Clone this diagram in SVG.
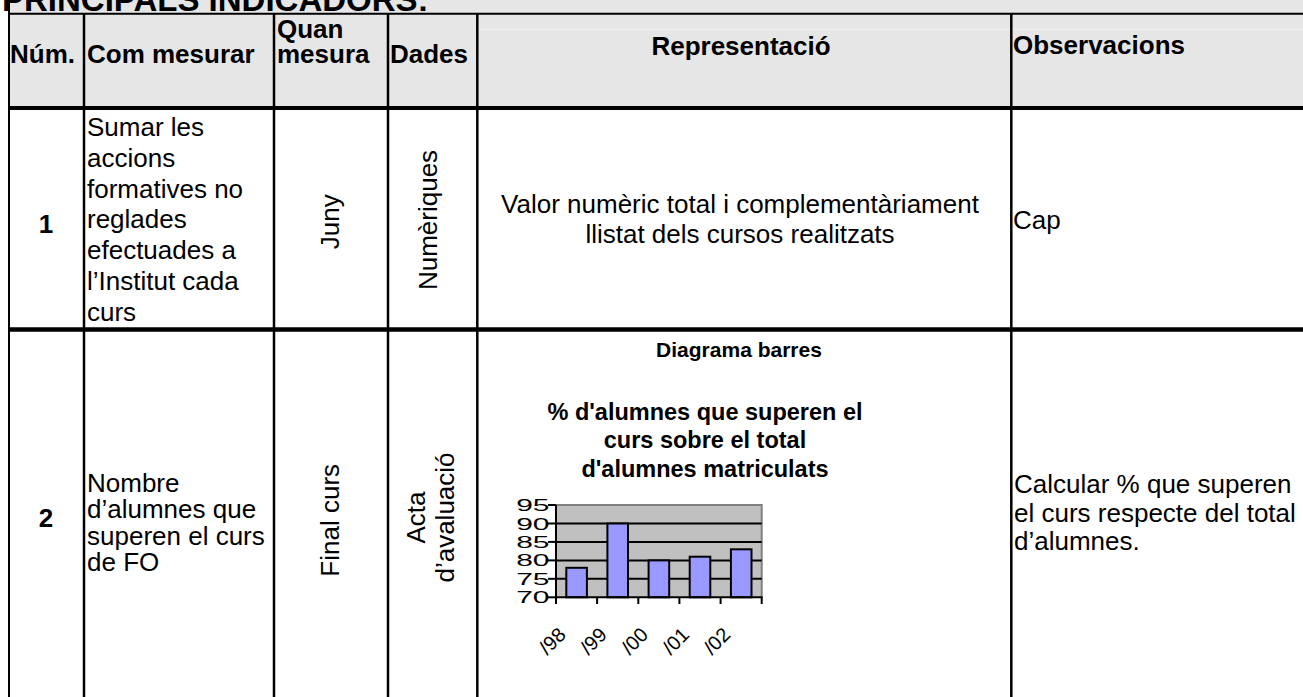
<svg xmlns="http://www.w3.org/2000/svg" width="1303" height="697" viewBox="0 0 1303 697">
<defs>
<style>
text{font-family:"Liberation Sans",Arial,sans-serif;fill:#000}
.h{font-size:26px;font-weight:bold}
.b{font-size:26px}
.ttl{font-size:33px;font-weight:bold}
.ct{font-size:23.5px;font-weight:bold;text-anchor:middle}
.yl{font-size:30px;text-anchor:end}
.xl{font-size:20px;text-anchor:end}
.g{stroke:#000;fill:none}
.bar{fill:#9999FF;stroke:#000;stroke-width:2}
.mid{text-anchor:middle}
</style>
</defs>
<rect x="0" y="0" width="1303" height="697" fill="#fff"/>
<rect x="9" y="0" width="1294" height="108" fill="#E6E6E6"/>
<line x1="478" y1="29.3" x2="1303" y2="29.3" stroke="#F3F3F3" stroke-width="1"/>

<g id="title"><text class="ttl" x="2" y="10.5">PRINCIPALS INDICADORS:</text></g>

<g id="header">
<text class="h" x="10" y="63.3">Núm.</text>
<text class="h" x="87" y="63.3">Com mesurar</text>
<text class="h" x="277" y="37.5">Quan</text>
<text class="h" x="277" y="63.3">mesura</text>
<text class="h" x="390" y="63.3">Dades</text>
<text class="h mid" x="741" y="55">Representació</text>
<text class="h" x="1013" y="54">Observacions</text>
</g>

<g id="row1">
<text class="h mid" x="46" y="232.5">1</text>
<text class="b" x="87"><tspan x="87" y="136">Sumar les</tspan><tspan x="87" y="166.8">accions</tspan><tspan x="87" y="197.6">formatives no</tspan><tspan x="87" y="228.4">reglades</tspan><tspan x="87" y="259.2">efectuades a</tspan><tspan x="87" y="290">l’Institut cada</tspan><tspan x="87" y="320.8">curs</tspan></text>
<text class="b mid" transform="translate(338.5,221.7) rotate(-90)">Juny</text>
<text class="b mid" transform="translate(437,220) rotate(-90)">Numèriques</text>
<text class="b mid" x="740" y="213.3">Valor numèric total i complementàriament</text>
<text class="b mid" x="740" y="243.3">llistat dels cursos realitzats</text>
<text class="b" x="1013" y="229.3">Cap</text>
</g>

<g id="row2">
<text class="h mid" x="46" y="526.7">2</text>
<text class="b"><tspan x="87" y="492">Nombre</tspan><tspan x="87" y="518.3">d’alumnes que</tspan><tspan x="87" y="544.6">superen el curs</tspan><tspan x="87" y="570.9">de FO</tspan></text>
<text class="b mid" transform="translate(338.5,520.3) rotate(-90)">Final curs</text>
<text class="b mid" transform="translate(425.3,517.5) rotate(-90)">Acta</text>
<text class="b mid" transform="translate(453.8,517.5) rotate(-90)">d’avaluació</text>
<text class="b"><tspan x="1014" y="493.4">Calcular % que superen</tspan><tspan x="1014" y="521.7">el curs respecte del total</tspan><tspan x="1014" y="550">d’alumnes.</tspan></text>
</g>

<g id="chart">
<text x="739" y="357" style="font-size:21px;font-weight:bold;text-anchor:middle">Diagrama barres</text>
<text class="ct" x="705" y="420">% d'alumnes que superen el</text>
<text class="ct" x="705" y="448.3">curs sobre el total</text>
<text class="ct" x="705" y="476.7">d'alumnes matriculats</text>
<rect x="556" y="505" width="205.7" height="92.3" fill="#C0C0C0"/>
<polyline points="556,505 761.7,505 761.7,597.3" fill="none" stroke="#808080" stroke-width="2"/>
<g class="g" stroke-width="2">
<line x1="556" y1="523.5" x2="761.7" y2="523.5"/>
<line x1="556" y1="541.9" x2="761.7" y2="541.9"/>
<line x1="556" y1="560.4" x2="761.7" y2="560.4"/>
<line x1="556" y1="578.8" x2="761.7" y2="578.8"/>
</g>
<rect class="bar" x="566.3" y="567.8" width="20.6" height="29.5"/>
<rect class="bar" x="607.4" y="523.5" width="20.6" height="73.8"/>
<rect class="bar" x="648.6" y="560.4" width="20.6" height="36.9"/>
<rect class="bar" x="689.7" y="556.7" width="20.6" height="40.6"/>
<rect class="bar" x="730.9" y="549.3" width="20.6" height="48"/>
<g class="g" stroke-width="2">
<line x1="556" y1="505" x2="556" y2="598.3"/>
<line x1="555" y1="597.3" x2="762.7" y2="597.3"/>
<line x1="548" y1="505" x2="556" y2="505"/>
<line x1="548" y1="523.5" x2="556" y2="523.5"/>
<line x1="548" y1="541.9" x2="556" y2="541.9"/>
<line x1="548" y1="560.4" x2="556" y2="560.4"/>
<line x1="548" y1="578.8" x2="556" y2="578.8"/>
<line x1="548" y1="597.3" x2="556" y2="597.3"/>
<line x1="556" y1="597.3" x2="556" y2="604"/>
<line x1="597.1" y1="597.3" x2="597.1" y2="604"/>
<line x1="638.3" y1="597.3" x2="638.3" y2="604"/>
<line x1="679.4" y1="597.3" x2="679.4" y2="604"/>
<line x1="720.6" y1="597.3" x2="720.6" y2="604"/>
<line x1="761.7" y1="597.3" x2="761.7" y2="604"/>
</g>
<text class="yl" transform="translate(549.5,511) scale(1,0.56)">95</text>
<text class="yl" transform="translate(549.5,529.5) scale(1,0.56)">90</text>
<text class="yl" transform="translate(549.5,547.9) scale(1,0.56)">85</text>
<text class="yl" transform="translate(549.5,566.4) scale(1,0.56)">80</text>
<text class="yl" transform="translate(549.5,584.8) scale(1,0.56)">75</text>
<text class="yl" transform="translate(549.5,603.3) scale(1,0.56)">70</text>
<text class="xl" transform="translate(567,636) rotate(-45)">/98</text>
<text class="xl" transform="translate(608.1,636) rotate(-45)">/99</text>
<text class="xl" transform="translate(649.3,636) rotate(-45)">/00</text>
<text class="xl" transform="translate(690.4,636) rotate(-45)">/01</text>
<text class="xl" transform="translate(731.6,636) rotate(-45)">/02</text>
</g>

<g id="grid" stroke="#000" fill="none">
<line x1="8" y1="13.7" x2="1303" y2="13.7" stroke-width="2"/>
<line x1="8" y1="108" x2="1303" y2="108" stroke-width="4"/>
<line x1="8" y1="329.5" x2="1303" y2="329.5" stroke-width="4.5"/>
<line x1="9" y1="0" x2="9" y2="697" stroke-width="2"/>
<line x1="84" y1="13" x2="84" y2="697" stroke-width="2.5"/>
<line x1="274" y1="13" x2="274" y2="697" stroke-width="2.5"/>
<line x1="388" y1="13" x2="388" y2="697" stroke-width="2.5"/>
<line x1="477.3" y1="13" x2="477.3" y2="697" stroke-width="2.5"/>
<line x1="1011.3" y1="13" x2="1011.3" y2="697" stroke-width="2.5"/>
</g>
</svg>
